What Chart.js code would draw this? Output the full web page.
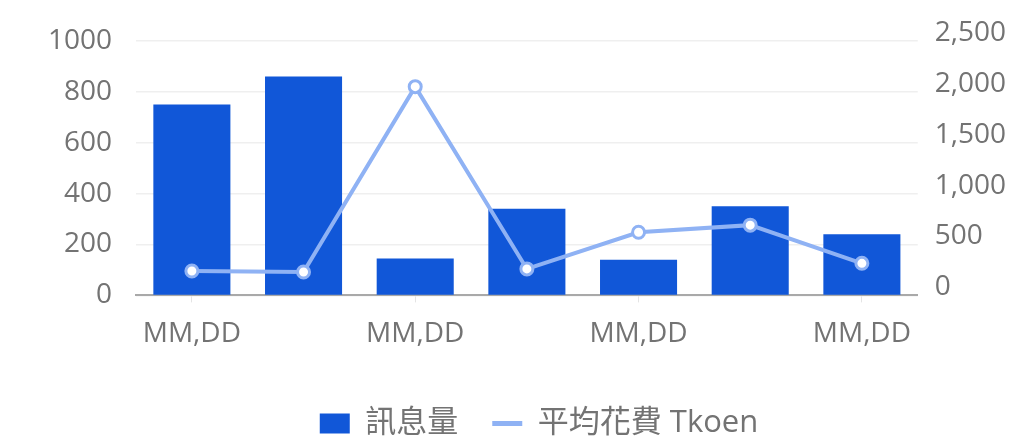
<!DOCTYPE html>
<html>
<head>
<meta charset="utf-8">
<script src="https://cdn.jsdelivr.net/npm/chart.js@4"></script>
<style>
  body { margin: 0; background: #fff; }
  #wrap { width: 1020px; height: 439px; }
</style>
</head>
<body>
<div id="wrap"><canvas id="chart"></canvas></div>
<script>
// Chart data
const categories = ['MM,DD', 'MM,DD', 'MM,DD', 'MM,DD', 'MM,DD', 'MM,DD', 'MM,DD'];
const messageCounts = [750, 860, 145, 340, 140, 350, 240];
const avgTokenCost = [240, 230, 2050, 260, 620, 690, 315];
const leftTicks = [0, 200, 400, 600, 800, 1000];
const rightTicks = [0, 500, 1000, 1500, 2000, 2500];

const textColor = '#737373';
const lineColor = '#8fb2f4';

Chart.defaults.font.family = '"Open Sans", "Noto Sans CJK TC", sans-serif';
Chart.defaults.font.size = 28;
Chart.defaults.color = textColor;

// nudge the legend a little to the right, like the original
const legendShift = {
  id: 'legendShift',
  afterLayout(chart) {
    chart.legend.left += 31;
  }
};

const ctx = document.getElementById('chart').getContext('2d');
new Chart(ctx, {
  type: 'bar',
  data: {
    labels: categories,
    datasets: [
      {
        type: 'bar',
        label: '訊息量',
        data: messageCounts,
        yAxisID: 'y',
        backgroundColor: '#1157d8',
        categoryPercentage: 1,
        barPercentage: 0.69,
        order: 2
      },
      {
        type: 'line',
        label: '平均花費 Tkoen',
        data: avgTokenCost,
        yAxisID: 'y1',
        borderColor: lineColor,
        borderWidth: 4,
        backgroundColor: '#ffffff',
        pointRadius: 6,
        pointBorderWidth: 3,
        pointBorderColor: lineColor,
        pointBackgroundColor: '#ffffff',
        tension: 0,
        order: 1
      }
    ]
  },
  plugins: [legendShift],
  options: {
    responsive: true,
    maintainAspectRatio: false,
    animation: false,
    layout: {
      padding: { left: 24, right: -3, top: 23, bottom: -10 }
    },
    plugins: {
      tooltip: { enabled: false },
      legend: {
        position: 'bottom',
        labels: {
          usePointStyle: true,
          pointStyleWidth: 30,
          boxHeight: 20,
          padding: 34,
          color: textColor,
          font: { size: 31 },
          sort: (a, b) => a.datasetIndex - b.datasetIndex,
          generateLabels: (chart) => {
            const items = Chart.defaults.plugins.legend.labels.generateLabels(chart);
            items.forEach(it => {
              it.pointStyle = it.datasetIndex === 0 ? 'rect' : 'line';
              if (it.datasetIndex === 1) it.lineWidth = 5;
            });
            return items;
          }
        }
      }
    },
    scales: {
      x: {
        afterFit: (axis) => { axis.height += 8; },
        grid: {
          display: true,
          offset: false,
          drawOnChartArea: false,
          drawTicks: true,
          tickLength: 7,
          color: '#e4e4e4'
        },
        border: { display: true, color: '#a9a9a9', width: 2 },
        ticks: {
          autoSkip: false,
          maxRotation: 0,
          padding: 15,
          callback: function (value, index) {
            return index % 2 === 0 ? this.getLabelForValue(value) : null;
          }
        }
      },
      y: {
        position: 'left',
        min: 0,
        max: leftTicks[leftTicks.length - 1],
        afterBuildTicks: (axis) => { axis.ticks = leftTicks.map(v => ({ value: v })); },
        grid: { color: '#efefef', drawTicks: false, lineWidth: 1.5 },
        border: { display: false },
        ticks: {
          padding: 24,
          callback: (v) => String(v)
        }
      },
      y1: {
        position: 'right',
        min: 0,
        max: rightTicks[rightTicks.length - 1],
        afterBuildTicks: (axis) => { axis.ticks = rightTicks.map(v => ({ value: v })); },
        grid: { drawOnChartArea: false, drawTicks: false },
        border: { display: false },
        ticks: {
          padding: 17,
          labelOffset: -8,
          callback: (v) => v.toLocaleString('en-US')
        }
      }
    }
  }
});
</script>
</body>
</html>
